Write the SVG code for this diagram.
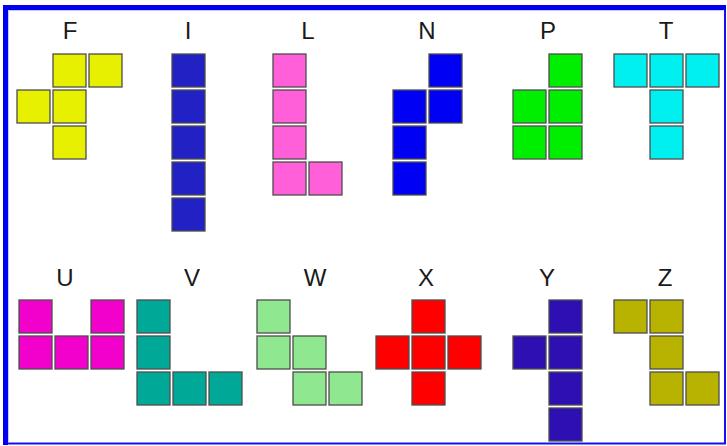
<svg xmlns="http://www.w3.org/2000/svg" width="727" height="446" viewBox="0 0 727 446">
<style>
  .c { stroke: #4d4d4d; stroke-width: 1.3; }
  .halo { fill: none; stroke: #c8c8c8; stroke-width: 1; }
  .lbl { font-family: "Liberation Sans", Arial, sans-serif; font-size: 24px; fill: #1a1a1a; text-anchor: middle; }
  .F { fill: #e6f000; } .I { fill: #2121c4; } .L { fill: #ff5fd8; } .N { fill: #0000f2; }
  .P { fill: #00ee00; } .T { fill: #00f0f0; } .U { fill: #f200cc; } .V { fill: #00a898; }
  .W { fill: #8fe88f; } .X { fill: #ff0000; } .Y { fill: #2e10b2; } .Z { fill: #b8b200; }
</style>
<defs>
  <g id="cell"><rect x="-0.8" y="-0.8" width="34.6" height="34.6" class="halo"/></g>
</defs>
<rect width="727" height="446" fill="#ffffff"/>
<g id="frame">
  <rect x="4.5" y="6.5" width="720.5" height="437" fill="none" stroke="#1010f0" stroke-width="2"/>
  <rect x="3" y="5" width="5" height="440" fill="#0000f0"/>
  <rect x="3" y="5" width="723" height="5" fill="#0000f0"/>
  <line x1="8.5" y1="10.5" x2="723" y2="10.5" stroke="#c8c8ff" stroke-width="1"/>
  <line x1="8.5" y1="10.5" x2="8.5" y2="442" stroke="#c8c8ff" stroke-width="1"/>
</g>
<g id="connectors"></g>

<g id="piece-F">
  <text class="lbl" x="70" y="39">F</text>
  <rect class="c F" x="53" y="54" width="33" height="33"/>
  <rect class="c F" x="89" y="54" width="33" height="33"/>
  <rect class="c F" x="17" y="90" width="33" height="33"/>
  <rect class="c F" x="53" y="90" width="33" height="33"/>
  <rect class="c F" x="53" y="126" width="33" height="33"/>
</g>
<g id="piece-I">
  <text class="lbl" x="188" y="39">I</text>
  <rect class="c I" x="172" y="54" width="33" height="33"/>
  <rect class="c I" x="172" y="90" width="33" height="33"/>
  <rect class="c I" x="172" y="126" width="33" height="33"/>
  <rect class="c I" x="172" y="162" width="33" height="33"/>
  <rect class="c I" x="172" y="198" width="33" height="33"/>
</g>
<g id="piece-L">
  <text class="lbl" x="308" y="39">L</text>
  <rect class="c L" x="273" y="54" width="33" height="33"/>
  <rect class="c L" x="273" y="90" width="33" height="33"/>
  <rect class="c L" x="273" y="126" width="33" height="33"/>
  <rect class="c L" x="273" y="162" width="33" height="33"/>
  <rect class="c L" x="309" y="162" width="33" height="33"/>
</g>
<g id="piece-N">
  <text class="lbl" x="427" y="39">N</text>
  <rect class="c N" x="429" y="54" width="33" height="33"/>
  <rect class="c N" x="393" y="90" width="33" height="33"/>
  <rect class="c N" x="429" y="90" width="33" height="33"/>
  <rect class="c N" x="393" y="126" width="33" height="33"/>
  <rect class="c N" x="393" y="162" width="33" height="33"/>
</g>
<g id="piece-P">
  <text class="lbl" x="548" y="39">P</text>
  <rect class="c P" x="549" y="54" width="33" height="33"/>
  <rect class="c P" x="513" y="90" width="33" height="33"/>
  <rect class="c P" x="549" y="90" width="33" height="33"/>
  <rect class="c P" x="513" y="126" width="33" height="33"/>
  <rect class="c P" x="549" y="126" width="33" height="33"/>
</g>
<g id="piece-T">
  <text class="lbl" x="666" y="39">T</text>
  <rect class="c T" x="614" y="54" width="33" height="33"/>
  <rect class="c T" x="650" y="54" width="33" height="33"/>
  <rect class="c T" x="686" y="54" width="33" height="33"/>
  <rect class="c T" x="650" y="90" width="33" height="33"/>
  <rect class="c T" x="650" y="126" width="33" height="33"/>
</g>

<g id="piece-U">
  <text class="lbl" x="65" y="286">U</text>
  <rect class="c U" x="19" y="300" width="33" height="33"/>
  <rect class="c U" x="91" y="300" width="33" height="33"/>
  <rect class="c U" x="19" y="336" width="33" height="33"/>
  <rect class="c U" x="55" y="336" width="33" height="33"/>
  <rect class="c U" x="91" y="336" width="33" height="33"/>
</g>
<g id="piece-V">
  <text class="lbl" x="192" y="286">V</text>
  <rect class="c V" x="137" y="300" width="33" height="33"/>
  <rect class="c V" x="137" y="336" width="33" height="33"/>
  <rect class="c V" x="137" y="372" width="33" height="33"/>
  <rect class="c V" x="173" y="372" width="33" height="33"/>
  <rect class="c V" x="209" y="372" width="33" height="33"/>
</g>
<g id="piece-W">
  <text class="lbl" x="315" y="286">W</text>
  <rect class="c W" x="257" y="300" width="33" height="33"/>
  <rect class="c W" x="257" y="336" width="33" height="33"/>
  <rect class="c W" x="293" y="336" width="33" height="33"/>
  <rect class="c W" x="293" y="372" width="33" height="33"/>
  <rect class="c W" x="329" y="372" width="33" height="33"/>
</g>
<g id="piece-X">
  <text class="lbl" x="426" y="286">X</text>
  <rect class="c X" x="412" y="300" width="33" height="33"/>
  <rect class="c X" x="376" y="336" width="33" height="33"/>
  <rect class="c X" x="412" y="336" width="33" height="33"/>
  <rect class="c X" x="448" y="336" width="33" height="33"/>
  <rect class="c X" x="412" y="372" width="33" height="33"/>
</g>
<g id="piece-Y">
  <text class="lbl" x="547" y="286">Y</text>
  <rect class="c Y" x="549" y="300" width="33" height="33"/>
  <rect class="c Y" x="513" y="336" width="33" height="33"/>
  <rect class="c Y" x="549" y="336" width="33" height="33"/>
  <rect class="c Y" x="549" y="372" width="33" height="33"/>
  <rect class="c Y" x="549" y="408" width="33" height="33"/>
</g>
<g id="piece-Z">
  <text class="lbl" x="665" y="286">Z</text>
  <rect class="c Z" x="614" y="300" width="33" height="33"/>
  <rect class="c Z" x="650" y="300" width="33" height="33"/>
  <rect class="c Z" x="650" y="336" width="33" height="33"/>
  <rect class="c Z" x="650" y="372" width="33" height="33"/>
  <rect class="c Z" x="686" y="372" width="33" height="33"/>
</g>
</svg>
